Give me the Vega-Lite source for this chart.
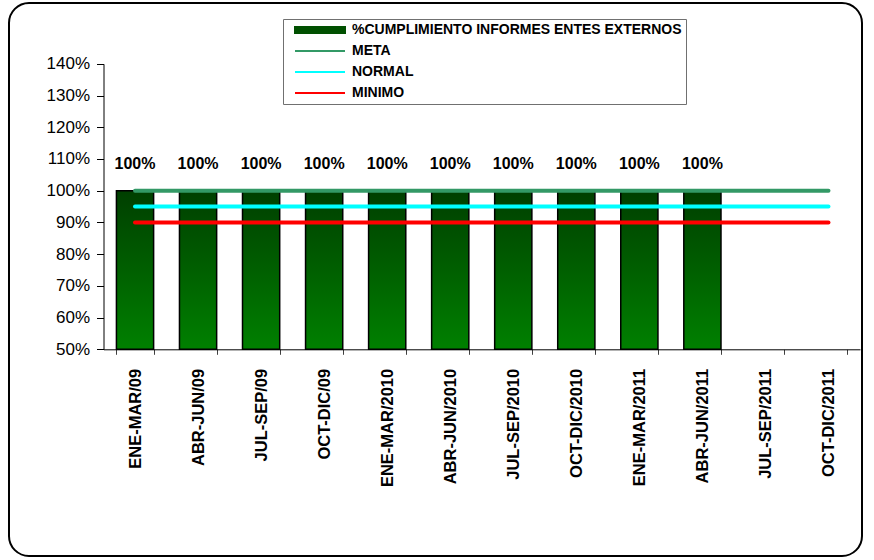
{
  "$schema": "https://vega.github.io/schema/vega-lite/v6.json",
  "autosize": {"type": "none"},
  "padding": {"left": 9, "top": 3, "right": 12, "bottom": 4},
  "width": 853,
  "height": 553,
  "background": "white",
  "config": {
    "view": {"stroke": "black", "strokeWidth": 2, "cornerRadius": 20, "fill": "white"},
    "font": "Liberation Sans"
  },
  "data": {
    "values": [
      {"periodo": "ENE-MAR/09", "serie": "%CUMPLIMIENTO INFORMES ENTES EXTERNOS", "valor": 1.0},
      {"periodo": "ABR-JUN/09", "serie": "%CUMPLIMIENTO INFORMES ENTES EXTERNOS", "valor": 1.0},
      {"periodo": "JUL-SEP/09", "serie": "%CUMPLIMIENTO INFORMES ENTES EXTERNOS", "valor": 1.0},
      {"periodo": "OCT-DIC/09", "serie": "%CUMPLIMIENTO INFORMES ENTES EXTERNOS", "valor": 1.0},
      {"periodo": "ENE-MAR/2010", "serie": "%CUMPLIMIENTO INFORMES ENTES EXTERNOS", "valor": 1.0},
      {"periodo": "ABR-JUN/2010", "serie": "%CUMPLIMIENTO INFORMES ENTES EXTERNOS", "valor": 1.0},
      {"periodo": "JUL-SEP/2010", "serie": "%CUMPLIMIENTO INFORMES ENTES EXTERNOS", "valor": 1.0},
      {"periodo": "OCT-DIC/2010", "serie": "%CUMPLIMIENTO INFORMES ENTES EXTERNOS", "valor": 1.0},
      {"periodo": "ENE-MAR/2011", "serie": "%CUMPLIMIENTO INFORMES ENTES EXTERNOS", "valor": 1.0},
      {"periodo": "ABR-JUN/2011", "serie": "%CUMPLIMIENTO INFORMES ENTES EXTERNOS", "valor": 1.0},
      {"periodo": "ENE-MAR/09", "serie": "META", "valor": 1.0},
      {"periodo": "ABR-JUN/09", "serie": "META", "valor": 1.0},
      {"periodo": "JUL-SEP/09", "serie": "META", "valor": 1.0},
      {"periodo": "OCT-DIC/09", "serie": "META", "valor": 1.0},
      {"periodo": "ENE-MAR/2010", "serie": "META", "valor": 1.0},
      {"periodo": "ABR-JUN/2010", "serie": "META", "valor": 1.0},
      {"periodo": "JUL-SEP/2010", "serie": "META", "valor": 1.0},
      {"periodo": "OCT-DIC/2010", "serie": "META", "valor": 1.0},
      {"periodo": "ENE-MAR/2011", "serie": "META", "valor": 1.0},
      {"periodo": "ABR-JUN/2011", "serie": "META", "valor": 1.0},
      {"periodo": "JUL-SEP/2011", "serie": "META", "valor": 1.0},
      {"periodo": "OCT-DIC/2011", "serie": "META", "valor": 1.0},
      {"periodo": "ENE-MAR/09", "serie": "NORMAL", "valor": 0.95},
      {"periodo": "ABR-JUN/09", "serie": "NORMAL", "valor": 0.95},
      {"periodo": "JUL-SEP/09", "serie": "NORMAL", "valor": 0.95},
      {"periodo": "OCT-DIC/09", "serie": "NORMAL", "valor": 0.95},
      {"periodo": "ENE-MAR/2010", "serie": "NORMAL", "valor": 0.95},
      {"periodo": "ABR-JUN/2010", "serie": "NORMAL", "valor": 0.95},
      {"periodo": "JUL-SEP/2010", "serie": "NORMAL", "valor": 0.95},
      {"periodo": "OCT-DIC/2010", "serie": "NORMAL", "valor": 0.95},
      {"periodo": "ENE-MAR/2011", "serie": "NORMAL", "valor": 0.95},
      {"periodo": "ABR-JUN/2011", "serie": "NORMAL", "valor": 0.95},
      {"periodo": "JUL-SEP/2011", "serie": "NORMAL", "valor": 0.95},
      {"periodo": "OCT-DIC/2011", "serie": "NORMAL", "valor": 0.95},
      {"periodo": "ENE-MAR/09", "serie": "MINIMO", "valor": 0.9},
      {"periodo": "ABR-JUN/09", "serie": "MINIMO", "valor": 0.9},
      {"periodo": "JUL-SEP/09", "serie": "MINIMO", "valor": 0.9},
      {"periodo": "OCT-DIC/09", "serie": "MINIMO", "valor": 0.9},
      {"periodo": "ENE-MAR/2010", "serie": "MINIMO", "valor": 0.9},
      {"periodo": "ABR-JUN/2010", "serie": "MINIMO", "valor": 0.9},
      {"periodo": "JUL-SEP/2010", "serie": "MINIMO", "valor": 0.9},
      {"periodo": "OCT-DIC/2010", "serie": "MINIMO", "valor": 0.9},
      {"periodo": "ENE-MAR/2011", "serie": "MINIMO", "valor": 0.9},
      {"periodo": "ABR-JUN/2011", "serie": "MINIMO", "valor": 0.9},
      {"periodo": "JUL-SEP/2011", "serie": "MINIMO", "valor": 0.9},
      {"periodo": "OCT-DIC/2011", "serie": "MINIMO", "valor": 0.9}
    ]
  },
  "encoding": {
    "x": {
      "field": "periodo",
      "type": "nominal",
      "sort": null,
      "scale": {
        "domain": ["ENE-MAR/09", "ABR-JUN/09", "JUL-SEP/09", "OCT-DIC/09", "ENE-MAR/2010", "ABR-JUN/2010", "JUL-SEP/2010", "OCT-DIC/2010", "ENE-MAR/2011", "ABR-JUN/2011", "JUL-SEP/2011", "OCT-DIC/2011"],
        "range": [94.5, 851],
        "paddingInner": 0.41,
        "paddingOuter": 0.205
      },
      "axis": {
        "title": null,
        "offset": -206.7,
        "labelAngle": -90,
        "labelFont": "Liberation Sans",
        "labelFontWeight": "bold",
        "labelFontSize": 16.5,
        "labelColor": "black",
        "labelPadding": 14,
        "tickBand": "extent",
        "tickSize": 5,
        "tickColor": "#404040",
        "domainColor": "black",
        "grid": false
      }
    },
    "y": {
      "field": "valor",
      "type": "quantitative",
      "scale": {"domain": [0.5, 1.4], "range": [346.3, 60.8], "nice": false, "zero": false},
      "axis": {
        "title": null,
        "offset": -94.5,
        "values": [0.5, 0.6, 0.7, 0.8, 0.9, 1.0, 1.1, 1.2, 1.3, 1.4],
        "format": ".0%",
        "labelFont": "Liberation Sans",
        "labelFontSize": 17,
        "labelColor": "black",
        "labelPadding": 7,
        "tickSize": 7,
        "tickColor": "black",
        "domainColor": "black",
        "grid": false
      }
    }
  },
  "layer": [
    {
      "transform": [{"filter": "datum.serie === '%CUMPLIMIENTO INFORMES ENTES EXTERNOS'"}],
      "mark": {
        "type": "bar",
        "fill": {
          "gradient": "linear",
          "x1": 0, "y1": 0, "x2": 0, "y2": 1,
          "stops": [{"offset": 0, "color": "#003f00"}, {"offset": 1, "color": "#008000"}]
        },
        "stroke": "black",
        "strokeWidth": 1.5
      },
      "encoding": {"y2": {"datum": 0.5}}
    },
    {
      "transform": [{"filter": "datum.serie !== '%CUMPLIMIENTO INFORMES ENTES EXTERNOS'"}],
      "mark": {"type": "line", "strokeWidth": 4, "strokeCap": "round"},
      "encoding": {
        "color": {
          "field": "serie",
          "type": "nominal",
          "scale": {
            "domain": ["%CUMPLIMIENTO INFORMES ENTES EXTERNOS", "META", "NORMAL", "MINIMO"],
            "range": ["#005000", "#339966", "#00ffff", "#ff0000"]
          },
          "legend": {
            "orient": "none",
            "legendX": 274,
            "legendY": 16,
            "title": null,
            "strokeColor": "#707070",
            "fillColor": "white",
            "padding": 4,
            "symbolType": "M-1,0H9",
            "symbolSize": 100,
            "symbolStrokeWidth": 2,
            "symbolOffset": 6,
            "labelFont": "Liberation Sans",
            "labelFontWeight": "bold",
            "labelFontSize": 14,
            "labelColor": "black",
            "labelOffset": 45,
            "labelLimit": 600,
            "rowPadding": 7,
            "encode": {
              "symbols": {
                "update": {
                  "shape": {"signal": "indexof(['META','NORMAL','MINIMO'], datum.value) >= 0 ? 'M-1,0H9' : 'M-1,-0.6H9V0.6H-1Z'"},
                  "fill": {"signal": "indexof(['META','NORMAL','MINIMO'], datum.value) >= 0 ? 'transparent' : '#005000'"},
                  "stroke": {"signal": "indexof(['META','NORMAL','MINIMO'], datum.value) >= 0 ? scale('color', datum.value) : 'black'"},
                  "strokeWidth": {"value": 2},
                  "opacity": {"value": 1}
                }
              }
            }
          }
        }
      }
    },
    {
      "transform": [{"filter": "datum.serie === '%CUMPLIMIENTO INFORMES ENTES EXTERNOS'"}],
      "mark": {
        "type": "text",
        "baseline": "middle",
        "dy": -27,
        "font": "Liberation Sans",
        "fontWeight": "bold",
        "fontSize": 16,
        "color": "black"
      },
      "encoding": {
        "text": {"field": "valor", "type": "quantitative", "format": ".0%"}
      }
    }
  ]
}
